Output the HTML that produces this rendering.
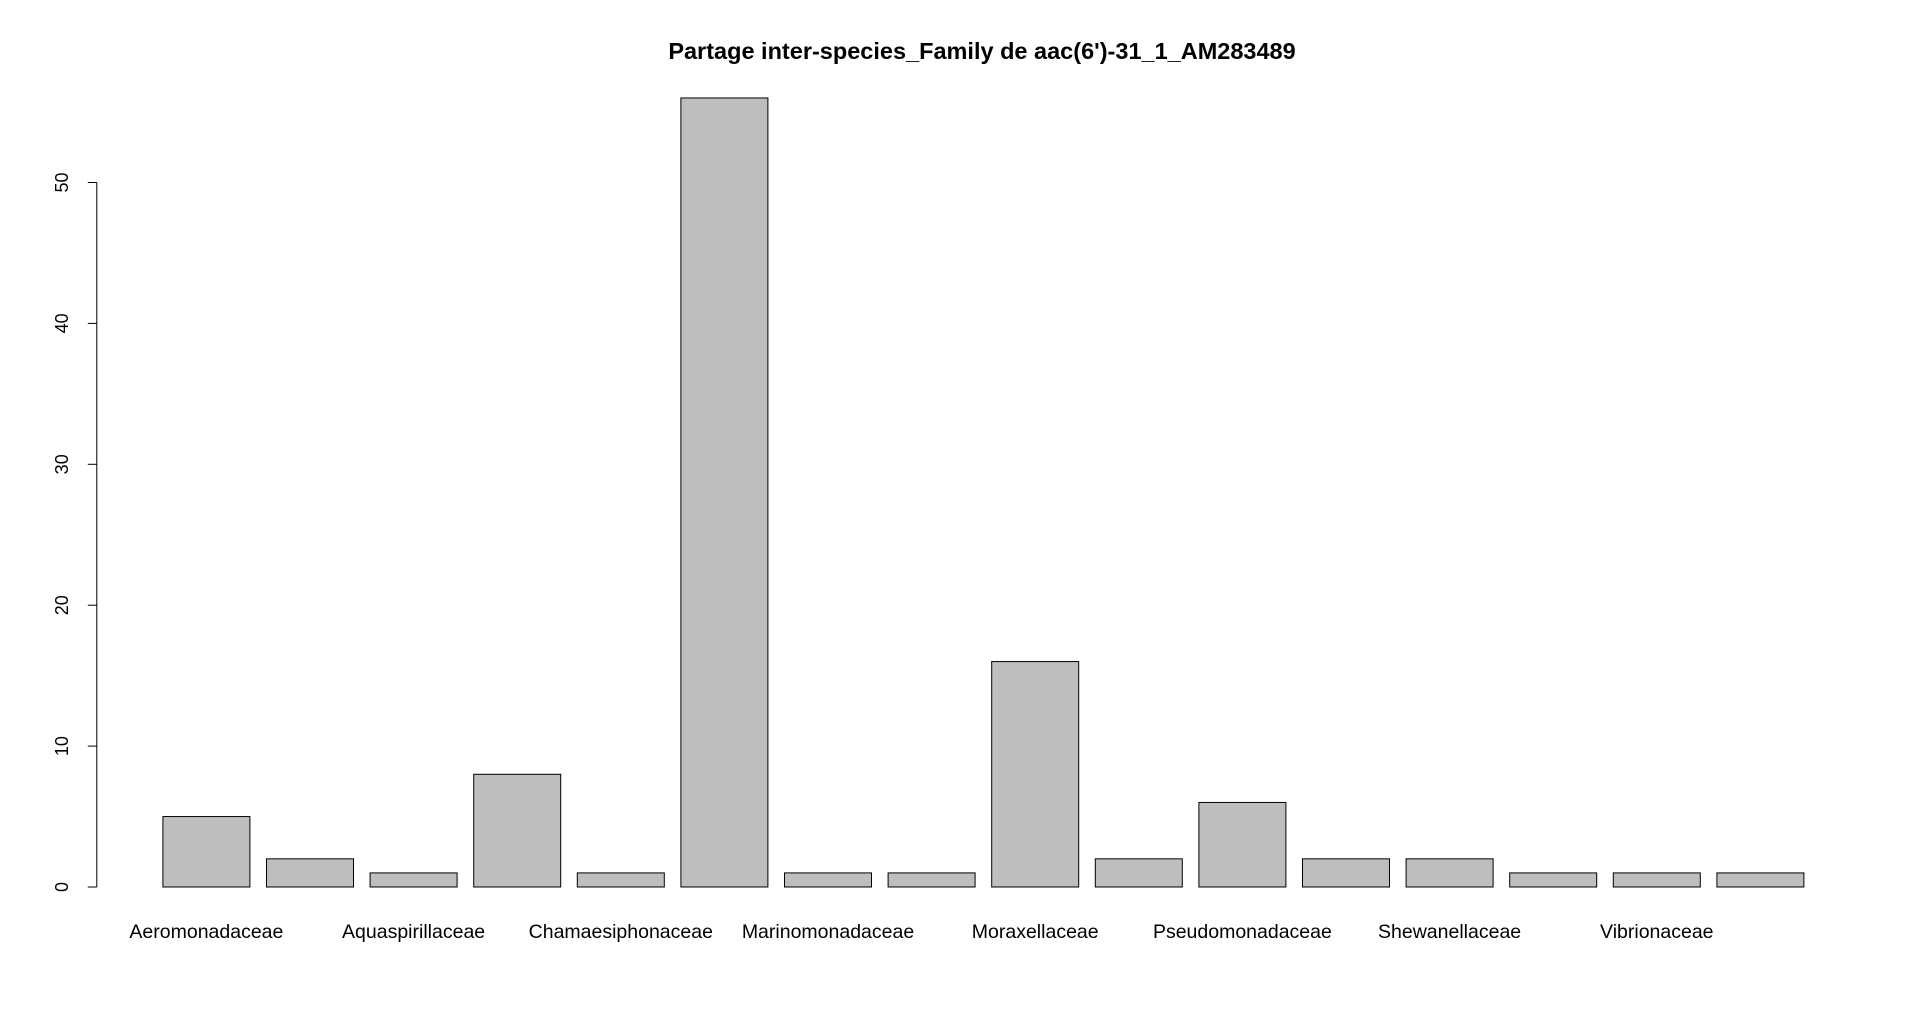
<!DOCTYPE html>
<html><head><meta charset="utf-8"><style>
html,body{margin:0;padding:0;background:#fff;}
svg{display:block;font-family:"Liberation Sans",Arial,sans-serif;}
</style></head><body>
<svg id="chart" width="1920" height="1017" viewBox="0 0 1920 1017">
<text x="982" y="59" text-anchor="middle" font-size="23.5" font-weight="bold">Partage inter-species_Family de aac(6')-31_1_AM283489</text>
<g id="bars"></g><g id="yaxis"></g><g id="xlabels"></g>
</svg>
<script>
const categories=["Aeromonadaceae","Aeromonadaceae2","Aquaspirillaceae","Aquaspirillaceae2","Chamaesiphonaceae","Chamaesiphonaceae2","Marinomonadaceae","Marinomonadaceae2","Moraxellaceae","Moraxellaceae2","Pseudomonadaceae","Pseudomonadaceae2","Shewanellaceae","Shewanellaceae2","Vibrionaceae","Vibrionaceae2"];
const values=[5,2,1,8,1,56,1,1,16,2,6,2,2,1,1,1];
const shownLabels=["Aeromonadaceae","","Aquaspirillaceae","","Chamaesiphonaceae","","Marinomonadaceae","","Moraxellaceae","","Pseudomonadaceae","","Shewanellaceae","","Vibrionaceae",""];
const yTicks=[0,10,20,30,40,50];
const NS="http://www.w3.org/2000/svg";
const y0=887,y50=182.5;
function yScale(v){return y0-(y0-y50)*v/50;}
const barStart=162.9,barStep=103.6,barW=87;
function xScale(i){return barStart+i*barStep;}
const gb=document.getElementById('bars');
values.forEach((v,i)=>{
 const r=document.createElementNS(NS,'rect');
 
 
 r.setAttribute('x',xScale(i));r.setAttribute('y',yScale(v));
 r.setAttribute('width',barW);r.setAttribute('height',yScale(0)-yScale(v));
 r.setAttribute('fill','#bebebe');r.setAttribute('stroke','#000');r.setAttribute('stroke-width','1');
 gb.appendChild(r);
});
const gy=document.getElementById('yaxis');
const ax=document.createElementNS(NS,'line');


ax.setAttribute('x1',96.8);ax.setAttribute('x2',96.8);ax.setAttribute('y1',yScale(0));ax.setAttribute('y2',yScale(50));ax.setAttribute('stroke','#000');
gy.appendChild(ax);
yTicks.forEach(t=>{
 const l=document.createElementNS(NS,'line');
 
 
 l.setAttribute('x1',87.8);l.setAttribute('x2',96.8);l.setAttribute('y1',yScale(t));l.setAttribute('y2',yScale(t));l.setAttribute('stroke','#000');
 gy.appendChild(l);
 const tx=document.createElementNS(NS,'text');
 
 
 tx.setAttribute('x',68);tx.setAttribute('y',yScale(t));tx.setAttribute('font-size','18');tx.setAttribute('text-anchor','middle');
 tx.setAttribute('transform','rotate(-90 68 '+yScale(t)+')');
 tx.textContent=t;gy.appendChild(tx);
});
const gx=document.getElementById('xlabels');
shownLabels.forEach((s,i)=>{
 if(!s)return;
 const tx=document.createElementNS(NS,'text');
 
 
 tx.setAttribute('x',xScale(i)+barW/2);tx.setAttribute('y',938);tx.setAttribute('font-size','19.5');tx.setAttribute('text-anchor','middle');
 tx.textContent=s;gx.appendChild(tx);
});
</script>
</body></html>
